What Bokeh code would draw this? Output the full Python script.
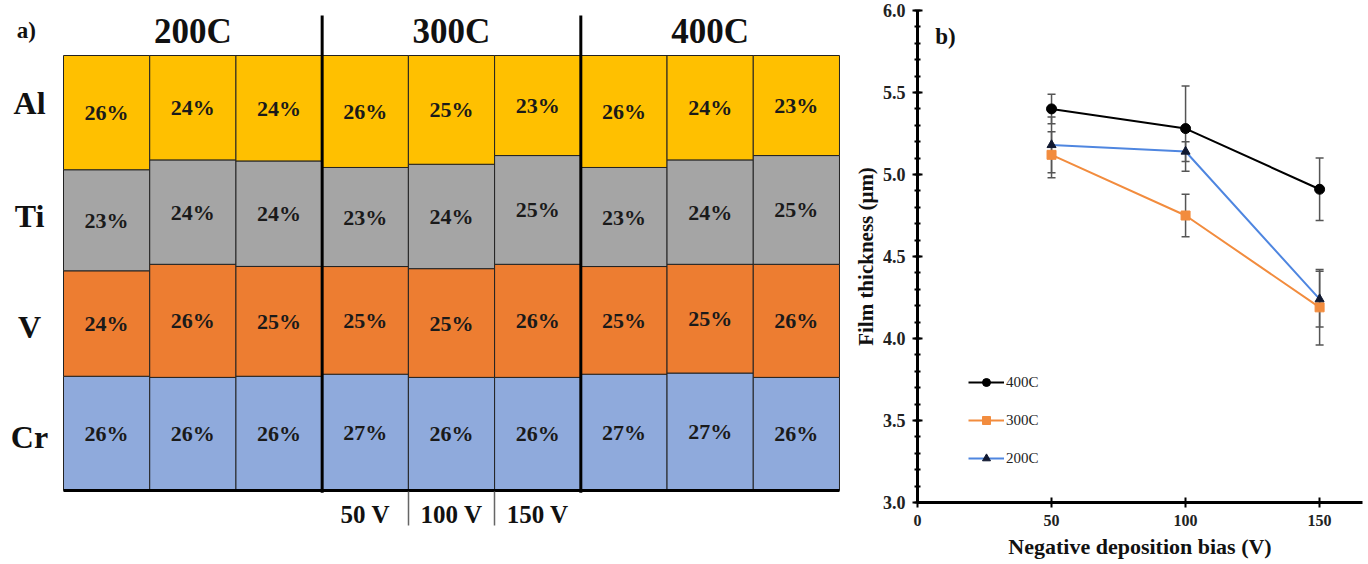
from bokeh.plotting import figure
from bokeh.layouts import row
from bokeh.models import (ColumnDataSource, Range1d, Label, Whisker, TeeHead, FixedTicker,
                          SingleIntervalTicker, PrintfTickFormatter, Legend, LegendItem,
                          LinearAxis)
from bokeh.core.properties import value
from bokeh.embed import file_html
from bokeh.resources import INLINE

SERIF = "Liberation Serif"

# ---- a) film composition (at.%) per deposition temperature and bias ----
temperatures = ["200C", "300C", "400C"]
biases = ["50 V", "100 V", "150 V"]
elements = ["Al", "Ti", "V", "Cr"]
al = [26, 24, 24, 26, 25, 23, 26, 24, 23]
ti = [23, 24, 24, 23, 24, 25, 23, 24, 25]
v = [24, 26, 25, 25, 25, 26, 25, 25, 26]
cr = [26, 26, 26, 27, 26, 26, 27, 27, 26]
element_colors = {"Al": "#FFC000", "Ti": "#A5A5A5", "V": "#ED7D31", "Cr": "#8FAADC"}

# ---- b) film thickness vs. negative bias ----
bias_v = [50, 100, 150]
thick_400 = [5.40, 5.28, 4.91]
err_400 = [0.09, 0.26, 0.19]
thick_300 = [5.12, 4.75, 4.19]
err_300 = [0.14, 0.13, 0.23]
thick_200 = [5.18, 5.14, 4.24]
err_200 = [0.17, 0.06, 0.17]

# shared vertical frame (both panels sit in one row and share frame edges)
TOP, BOTTOM, H = 10, 62, 564
FRAME_H = H - TOP - BOTTOM

# ------------------------------------------------------------------ panel a
COL_PX = 86.22   # pixels per sample column
PCT_PX = 4.35    # pixels per percent
BASE_PX = 490 - TOP   # baseline position inside the frame
pa = figure(width=850, height=H,
            x_range=Range1d(-63 / COL_PX, (850 - 63) / COL_PX),
            y_range=Range1d(-(FRAME_H - BASE_PX) / PCT_PX, BASE_PX / PCT_PX),
            x_axis_type=None, y_axis_type=None,
            output_backend="svg", toolbar_location=None,
            min_border_left=0, min_border_right=0,
            min_border_top=TOP, min_border_bottom=BOTTOM)
pa.outline_line_color = None
pa.grid.visible = False

cells = dict(left=[], right=[], bottom=[], top=[], color=[], label=[], xm=[], ym=[])
series = {"Al": al, "Ti": ti, "V": v, "Cr": cr}
for i in range(len(al)):
    total = sum(series[e][i] for e in elements)
    base = 0.0
    for e in ["Cr", "V", "Ti", "Al"]:
        h = series[e][i] / total * 100
        cells["left"].append(i)
        cells["right"].append(i + 1)
        cells["bottom"].append(base)
        cells["top"].append(base + h)
        cells["color"].append(element_colors[e])
        cells["label"].append(f"{series[e][i]}%")
        cells["xm"].append(i + 0.5)
        cells["ym"].append(base + h / 2)
        base += h
csrc = ColumnDataSource(cells)
pa.quad(left="left", right="right", bottom="bottom", top="top", fill_color="color",
        line_color="#222222", line_width=1, source=csrc)
pa.text(x="xm", y="ym", text="label", source=csrc, text_font=value(SERIF),
        text_font_style="bold", text_font_size="22px", text_color="#1a1a1a",
        text_align="center", text_baseline="middle")

# group separators and baseline
pa.segment(x0=[3, 6], y0=[-0.5, -0.5], x1=[3, 6], y1=[109.2, 109.2],
           line_color="black", line_width=3)
pa.segment(x0=[0], y0=[0], x1=[9], y1=[0], line_color="black", line_width=3)

# bias labels under the 300C group, with thin dividers between them
bias_axis = LinearAxis(
    ticker=FixedTicker(ticks=[3.5, 4.5, 5.5], minor_ticks=[4, 5]),
    major_label_overrides={3.5: biases[0], 4.5: biases[1], 5.5: biases[2]},
    axis_line_color=None, major_tick_line_color=None,
    major_tick_in=0, major_tick_out=0,
    minor_tick_line_color="#666666", minor_tick_line_width=1.5,
    minor_tick_in=11, minor_tick_out=23,
    major_label_standoff=-25,
    major_label_text_font=SERIF, major_label_text_font_style="bold",
    major_label_text_font_size="25px", major_label_text_color="#111111")
pa.add_layout(bias_axis, "below")

# headers and element labels
pa.text(x=[1.5, 4.5, 7.5], y=[105.5] * 3, text=temperatures, text_font=value(SERIF),
        text_font_style="bold", text_font_size="35px", text_color="#111111",
        text_align="center", text_baseline="middle")
pa.text(x=[-0.394] * 4, y=[89.0, 63.2, 37.5, 12.2], text=elements, text_font=value(SERIF),
        text_font_style="bold", text_font_size="32px", text_color="#111111",
        text_align="center", text_baseline="middle")
pa.add_layout(Label(x=-0.43, y=105.7, text="a)", text_font=SERIF, text_font_style="bold",
                    text_font_size="23px", text_color="#111111",
                    text_align="center", text_baseline="middle"))

# ------------------------------------------------------------------ panel b
pb = figure(width=518, height=H, x_range=Range1d(0, 166), y_range=Range1d(3, 6),
            output_backend="svg", toolbar_location=None,
            min_border_left=66, min_border_right=6,
            min_border_top=TOP, min_border_bottom=BOTTOM)
pb.outline_line_color = None
pb.grid.visible = False

for ax in (pb.xaxis, pb.yaxis):
    ax.axis_line_width = 3
    ax.axis_line_color = "black"
    ax.major_tick_line_width = 2
    ax.major_tick_line_color = "black"
    ax.minor_tick_line_width = 2
    ax.minor_tick_line_color = "black"
    ax.major_tick_in = 5
    ax.major_tick_out = 5
    ax.minor_tick_in = 3
    ax.minor_tick_out = 3
    ax.major_label_text_font = SERIF
    ax.major_label_text_font_style = "bold"
    ax.major_label_text_color = "#222222"
    ax.axis_label_text_font = SERIF
    ax.axis_label_text_font_style = "bold"
    ax.axis_label_text_color = "#111111"

pb.xaxis.ticker = FixedTicker(ticks=[0, 50, 100, 150], minor_ticks=[])
pb.xaxis.major_label_text_font_size = "16px"
pb.xaxis.major_label_standoff = 7
pb.xaxis.axis_label = "Negative deposition bias (V)"
pb.xaxis.axis_label_text_font_size = "22px"
pb.xaxis.axis_label_standoff = 5

pb.yaxis.ticker = SingleIntervalTicker(interval=0.5, num_minor_ticks=5)
pb.yaxis.formatter = PrintfTickFormatter(format="%.1f")
pb.yaxis.major_label_text_font_size = "18px"
pb.yaxis.major_label_standoff = 7
pb.yaxis.axis_label = "Film thickness (μm)"
pb.yaxis.axis_label_text_font_size = "21px"
pb.yaxis.axis_label_standoff = 2

series_b = [
    ("400C", thick_400, err_400, "black", "circle", "black", 10),
    ("300C", thick_300, err_300, "#F28C3E", "square", "#F28C3E", 9),
    ("200C", thick_200, err_200, "#4F86E0", "triangle", "#101830", 9),
]
items = []
for name, ys, es, lcol, marker, mcol, msize in series_b:
    src = ColumnDataSource(dict(
        x=bias_v, y=ys,
        upper=[y + e for y, e in zip(ys, es)],
        lower=[y - e for y, e in zip(ys, es)]))
    pb.add_layout(Whisker(source=src, base="x", upper="upper", lower="lower",
                          line_color="#555555", line_width=1.5,
                          upper_head=TeeHead(size=8, line_color="#555555", line_width=1.5),
                          lower_head=TeeHead(size=8, line_color="#555555", line_width=1.5)))
    lr = pb.line("x", "y", source=src, line_color=lcol, line_width=2)
    sr = pb.scatter("x", "y", source=src, marker=marker, size=msize,
                    fill_color=mcol, line_color=mcol)
    items.append(LegendItem(label=name, renderers=[lr, sr]))

legend = Legend(items=items, location=(51, 34), orientation="vertical",
                glyph_width=36, glyph_height=20, label_height=20, spacing=18,
                padding=0, margin=0, label_standoff=2,
                label_text_font=SERIF, label_text_font_size="15px",
                label_text_color="#222222",
                background_fill_alpha=0, border_line_alpha=0)
pb.add_layout(legend)

pb.add_layout(Label(x=10.4, y=5.84, text="b)", text_font=SERIF, text_font_style="bold",
                    text_font_size="23px", text_color="#111111",
                    text_align="center", text_baseline="middle"))

layout = row(pa, pb, spacing=0)
open("out.html", "w").write(file_html(layout, INLINE))
